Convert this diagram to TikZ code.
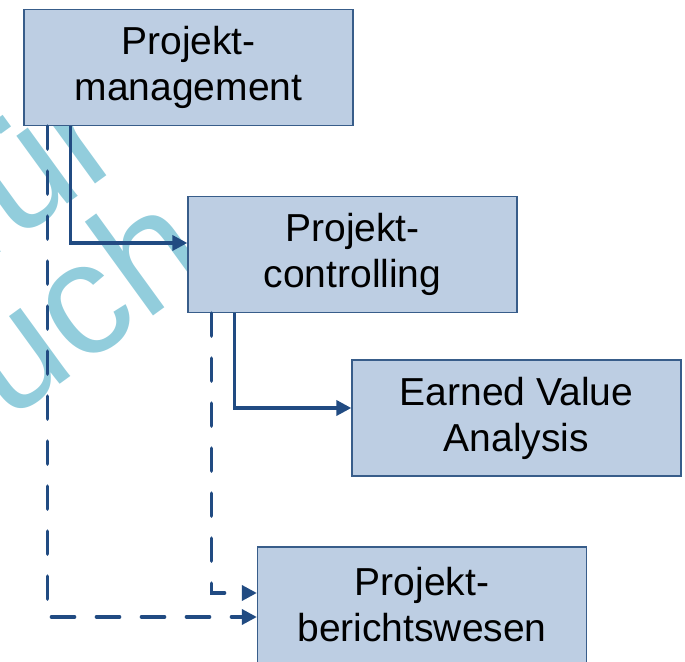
\documentclass[tikz,border=0pt]{standalone}
\usepackage{fontspec}
\setmainfont{Liberation Sans}
\usetikzlibrary{arrows.meta}
\definecolor{boxfill}{RGB}{189,206,227}
\definecolor{boxline}{RGB}{56,93,138}
\definecolor{conncol}{RGB}{33,75,130}
\definecolor{wmcol}{RGB}{146,205,220}
\tikzset{
  box/.style={rectangle, draw=boxline, fill=boxfill, line width=1.3pt,
    minimum width=329pt, minimum height=116pt, inner sep=0pt, align=center,
    font=\fontsize{39}{46}\selectfont},
  conn/.style={draw=conncol, line width=3.6pt,
    -{Triangle[length=15pt,width=15pt]}},
  dconn/.style={conn, line cap=round, dash pattern=on 23pt off 22pt},
  wmark/.style={text=wmcol, font=\fontsize{160}{176}\selectfont, inner sep=0pt}
}
\begin{document}
\begin{tikzpicture}[x=1pt,y=1pt]
\useasboundingbox (0,0) rectangle (685,661);
\clip (0,0) rectangle (685,661);
% watermark
\node[wmark, rotate=36, anchor=base west] (wm1) at (-22,392) {für};
\node[wmark, rotate=36, anchor=base west] (wm2) at (-79,176) {Buch};
% boxes
\node[box] (pm) at (188.5,593.5) {Projekt-\\management};
\node[box] (pc) at (352.5,406.5) {Projekt-\\controlling};
\node[box] (eva) at (516.5,243) {Earned Value\\Analysis};
\node[box] (pb) at (422,56) {Projekt-\\berichtswesen};
% connectors
\draw[conn] ([xshift=47pt]pm.south west) |- ([yshift=11.5pt]pc.west);
\draw[conn] ([xshift=47pt]pc.south west) |- ([yshift=10pt]eva.west);
\draw[dconn] ([xshift=24pt]pc.south west) |- ([yshift=12pt]pb.west);
\draw[dconn] ([xshift=24pt]pm.south west) |- ([yshift=-12pt]pb.west);
\end{tikzpicture}
\end{document}
